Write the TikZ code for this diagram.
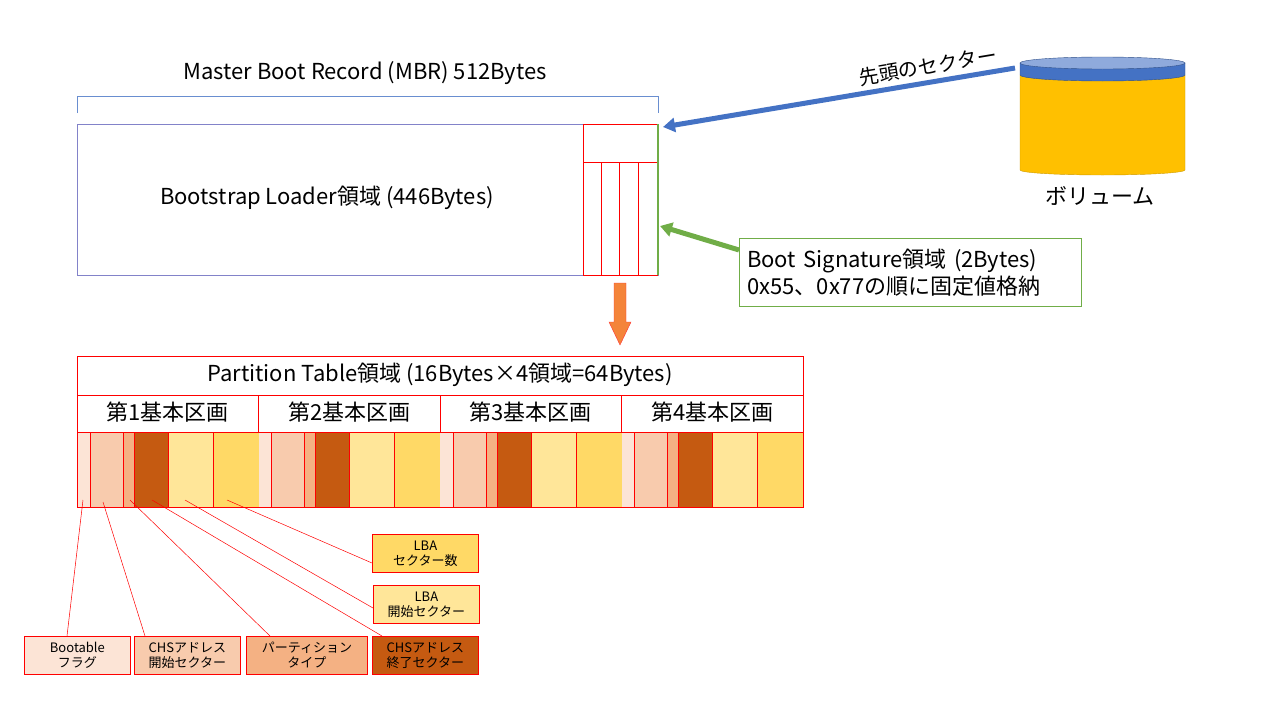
\documentclass[tikz,border=0pt]{standalone}
\usepackage{fontspec}
\setmainfont{Noto Sans CJK JP}
\usetikzlibrary{decorations.pathreplacing,arrows.meta}
\definecolor{bootc}{HTML}{FCE4D6}
\definecolor{chsa}{HTML}{F8CBAD}
\definecolor{typec}{HTML}{F4B183}
\definecolor{chsb}{HTML}{C55A11}
\definecolor{lbaa}{HTML}{FFE699}
\definecolor{lbab}{HTML}{FFD966}
\definecolor{sigc}{HTML}{70AD47}
\definecolor{volc}{HTML}{FFC000}
\definecolor{volt}{HTML}{4472C4}
\definecolor{voltop}{HTML}{8FAADC}
\definecolor{downc}{HTML}{F4843A}

\tikzset{%
  % Specifications for style of nodes:
         cell/.style = {draw=red, line width=0.8pt},
         lbl/.style  = {draw=red, line width=0.8pt, align=center, font=\fontsize{13}{15}\selectfont, minimum height=38pt, inner sep=0pt},
         big/.style  = {font=\fontsize{22}{27}\selectfont, align=left},
         lead/.style = {red, line width=0.5pt},
}

\begin{document}
\begin{tikzpicture}[x=1pt, y=-1pt]
    \useasboundingbox (0,0) rectangle (1280,720);

    % MBR
    \draw[gray!60!blue!70] (77,124) rectangle (658,275);
    \draw[volt!80] (77,113) -- (77,96) -- (658,96) -- (658,113);
    \node (mbr)  [big] at (365,73)  {Master Boot Record (MBR) 512Bytes};
    \node (boot) [big] at (327,198) {Bootstrap Loader領域 (446Bytes)};
    \draw[cell] (583,124) rectangle (657,275);
    \draw[cell] (583,162) -- (657,162);
    \foreach \x in {601,619,638} \draw[cell] (\x,162) -- (\x,275);
    \draw[sigc, line width=1.5pt] (658,124) -- (658,275);
    \coordinate (mbrtop) at (663,127);
    \coordinate (mbrsig) at (660,226);

    % Volume
    \filldraw[fill=volc, draw=volc!80!black] (1020,75) -- (1020,170) arc[start angle=180, end angle=0, x radius=82.5, y radius=5] -- (1185,75) -- cycle;
    \filldraw[fill=volt, draw=volt!70!black] (1020,63) -- (1020,75) arc[start angle=180, end angle=0, x radius=82.5, y radius=6] -- (1185,63) -- cycle;
    \filldraw[fill=voltop, draw=volt!70!black] (1102.5,63) ellipse[x radius=82.5, y radius=6];
    \node (vol) at (1102.5,118) {};
    \node (volname) [big] at (1100,196) {ボリューム};
    \draw[-{Triangle[width=14pt,length=12pt]}, volt, line width=5pt] (1015,68) -- (mbrtop)
        node[pos=0.24, sloped, above=1pt, black, font=\fontsize{20}{24}\selectfont] {先頭のセクター};

    % Boot signature
    \node (sig) [big, draw=sigc, text width=326pt, minimum height=68pt, anchor=north west, inner sep=8pt] at (739,238)
        {Boot Signature領域 (2Bytes)\\0x55、0x77の順に固定値格納};
    \draw[-{Triangle[width=14pt,length=12pt]}, sigc, line width=5pt] (sig.west |- 0,250) -- (mbrsig);

    % Down arrow
    \coordinate (dtop) at (620,283);
    \coordinate (dbot) at (620,345);
    \filldraw[fill=downc, draw=red!80] (614,283) -- (626,283) -- (626,322) -- (631,322) -- (dbot) -- (609,322) -- (614,322) -- cycle;

    % Partition table
    \draw[cell] (77,356) rectangle (803,507);
    \draw[cell] (77,395) -- (803,395);
    \draw[cell] (77,432) -- (803,432);
    \node (pt) [big] at (440,375) {Partition Table領域 (16Bytes×4領域=64Bytes)};
    \foreach \k/\num in {0/1,1/2,2/3,3/4} {
      \pgfmathsetmacro{\off}{77+181.5*\k}
      \draw[cell] (\off,395) -- (\off,432);
      \node (sec\num) [big] at (\off+90.75,412) {第\num 基本区画};
      \fill[bootc] (\off,432) rectangle (\off+13,507);
      \fill[chsa]  (\off+13,432) rectangle (\off+46,507);
      \fill[typec] (\off+46,432) rectangle (\off+57,507);
      \fill[chsb]  (\off+57,432) rectangle (\off+91,507);
      \fill[lbaa]  (\off+91,432) rectangle (\off+136,507);
      \fill[lbab]  (\off+136,432) rectangle (\off+181.5,507);
      \foreach \d in {13,46,57,91,136} \draw[cell] (\off+\d,432) -- (\off+\d,507);
    }
    \draw[cell] (77,432) rectangle (803,507);

    % Labels
    \node (lboot)  [lbl, fill=bootc, minimum width=106pt, anchor=north west] at (24,636)  {Bootable\\フラグ};
    \node (lchsa)  [lbl, fill=chsa,  minimum width=106pt, anchor=north west] at (134,636) {CHSアドレス\\開始セクター};
    \node (ltype)  [lbl, fill=typec, minimum width=121pt, anchor=north west] at (246,636) {パーティション\\タイプ};
    \node (lchsb)  [lbl, fill=chsb,  minimum width=106pt, anchor=north west] at (372,636) {CHSアドレス\\終了セクター};
    \node (llbaa)  [lbl, fill=lbaa,  minimum width=106pt, anchor=north west] at (373,585) {LBA\\開始セクター};
    \node (llbab)  [lbl, fill=lbab,  minimum width=106pt, anchor=north west] at (372,534) {LBA\\セクター数};

    % Draw leader lines
    \draw[lead] (83,500)  -- (lboot.north -| 67,0);
    \draw[lead] (103,502) -- (lchsa.north -| 145,0);
    \draw[lead] (130,500) -- (ltype.north -| 270,0);
    \draw[lead] (152,500) -- (lchsb.north -| 382,0);
    \draw[lead] (185,500) -- (llbaa.west |- 0,608);
    \draw[lead] (227,500) -- (llbab.west |- 0,563);
\end{tikzpicture}
\end{document}
